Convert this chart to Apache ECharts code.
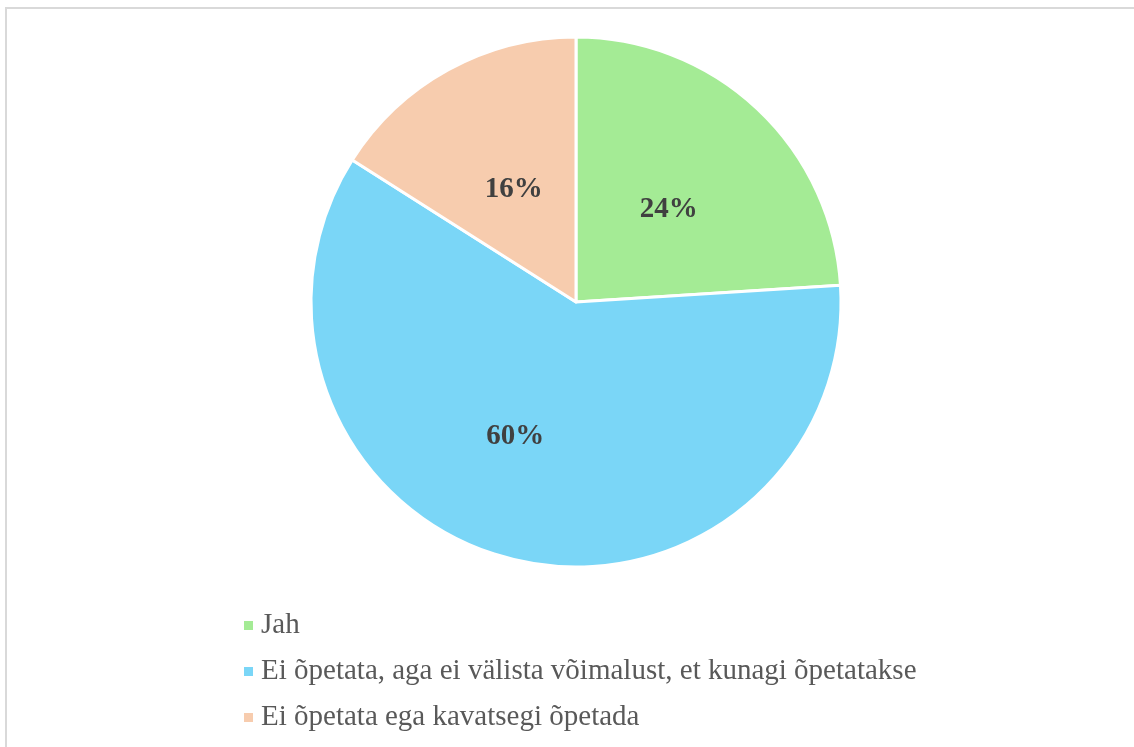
<!DOCTYPE html>
<html>
<head>
<meta charset="utf-8">
<script src="https://cdn.jsdelivr.net/npm/echarts@6/dist/echarts.min.js"></script>
<style>
  html, body { margin: 0; padding: 0; background: #fff; }
  .frame {
    position: absolute; left: 5px; top: 7px; width: 1140px; height: 760px;
    border: 2px solid #d9d9d9; box-sizing: border-box;
  }
  #chart { position: absolute; left: 0; top: 0; width: 1134px; height: 747px; }
</style>
</head>
<body>
<div class="frame"></div>
<div id="chart"></div>
<script>
const categories = [
  "Jah",
  "Ei õpetata, aga ei välista võimalust, et kunagi õpetatakse",
  "Ei õpetata ega kavatsegi õpetada",
];
const values = [24, 60, 16];
const colors = ["#a4eb95", "#7ad6f7", "#f7ccae"];

// nudge labels to where the original puts them
const labelShift = [[0, 6], [-27, 3], [3, 6]];

let chart = echarts.init(document.getElementById("chart"));
let option = {
  animation: false,
  legend: {
    orient: "vertical",
    left: 237,
    top: 606,
    itemWidth: 11,
    itemHeight: 11,
    itemGap: 17,
    icon: "rect",
    textStyle: {
      fontFamily: "Liberation Serif",
      fontSize: 29,
      color: "#595959",
      padding: [0, 0, 0, 2],
    },
    data: categories,
  },
  series: [
    {
      type: "pie",
      center: [576, 302],
      radius: 265,
      startAngle: 90,
      clockwise: true,
      itemStyle: { borderColor: "#fff", borderWidth: 3 },
      label: {
        position: "inside",
        formatter: "{c}%",
        fontFamily: "Liberation Serif",
        fontWeight: "bold",
        fontSize: 29,
        color: "#404040",
      },
      labelLine: { show: false },
      data: categories.map((name, i) => ({
        name: name,
        value: values[i],
        itemStyle: { color: colors[i] },
        label: { offset: labelShift[i] },
      })),
    },
  ],
};
chart.setOption(option);
</script>
</body>
</html>
